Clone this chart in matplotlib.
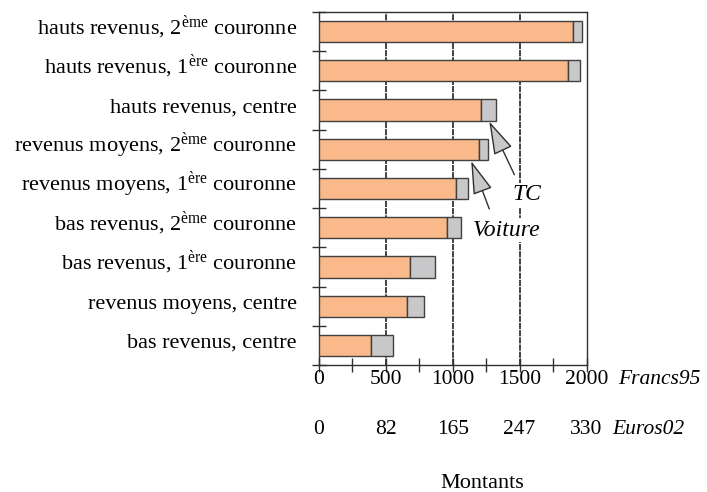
import matplotlib
matplotlib.use("Agg")
import matplotlib.pyplot as plt
import matplotlib.transforms as mtransforms

plt.rcParams["font.family"] = ["Liberation Serif", "DejaVu Serif"]
plt.rcParams["mathtext.fontset"] = "custom"
plt.rcParams["mathtext.rm"] = "Liberation Serif"
plt.rcParams["mathtext.it"] = "Liberation Serif:italic"

# bottom to top
categories = [
    "bas revenus, centre",
    "revenus moyens, centre",
    r"bas revenus, 1$^{\mathrm{ère}}$ couronne",
    r"bas revenus, 2$^{\mathrm{ème}}$ couronne",
    r"revenus moyens, 1$^{\mathrm{ère}}$ couronne",
    r"revenus moyens, 2$^{\mathrm{ème}}$ couronne",
    "hauts revenus, centre",
    r"hauts revenus, 1$^{\mathrm{ère}}$ couronne",
    r"hauts revenus, 2$^{\mathrm{ème}}$ couronne",
]
voiture = [390, 657, 684, 954, 1026, 1193, 1208, 1863, 1900]
tc = [164, 125, 180, 107, 85, 71, 118, 85, 68]

francs_ticks = [0, 500, 1000, 1500, 2000]
francs_labels = ["0", "500", "1000", "1500", "2000"]
euros_labels = ["0", "82", "165", "247", "330"]

FS = 15.5

fig = plt.figure(figsize=(7.07, 4.92), dpi=100)
ax = fig.add_axes([319 / 707, 1 - 365 / 492, 267.5 / 707, 353 / 492])

y = list(range(len(categories)))
ax.barh(y, voiture, height=0.54, color="#f9b98a", edgecolor="#404040",
        linewidth=1, zorder=3)
ax.barh(y, tc, left=voiture, height=0.54, color="#c8c8ca",
        edgecolor="#404040", linewidth=1, zorder=3)

ax.set_xlim(0, 2000)
ax.set_ylim(-0.5, len(categories) - 0.5)

for v in francs_ticks[1:-1]:
    ax.axvline(v, color="#101010", linewidth=1.1, linestyle=(0, (4, 0.7)),
               zorder=1)

for s in ax.spines.values():
    s.set_color("#303030")
    s.set_linewidth(1)

# y axis: ticks on boundaries, labels on centres
ax.set_yticks([i - 0.5 for i in range(len(categories) + 1)])
ax.set_yticklabels([])
ax.set_yticks([i - 0.06 for i in y], minor=True)
ax.set_yticklabels(categories, minor=True, fontsize=16)
for lab in ax.get_yticklabels(minor=True):
    lab.set_va("baseline")
ax.tick_params(axis="y", which="major", direction="inout", length=10.5,
               width=1, color="#303030")
ax.tick_params(axis="y", which="minor", length=0, pad=16)

# x axis
ax.set_xticks(francs_ticks)
ax.set_xticklabels([])
ax.set_xticks([250, 750, 1250, 1750], minor=True)
ax.tick_params(axis="x", which="both", direction="inout", length=10,
               width=1, color="#303030")

trans = mtransforms.blended_transform_factory(ax.transData, fig.transFigure)
for v, lab in zip(francs_ticks, francs_labels):
    ax.text(v, 1 - 379 / 492, lab, transform=trans, ha="center",
            va="center", fontsize=FS)
for v, lab in zip(francs_ticks, euros_labels):
    ax.text(v, 1 - 429 / 492, lab, transform=trans, ha="center",
            va="center", fontsize=FS)
ax.text(2235, 1 - 379 / 492, "Francs95", transform=trans, ha="left",
        va="center", fontsize=FS, style="italic")
ax.text(2195, 1 - 429 / 492, "Euros02", transform=trans, ha="left",
        va="center", fontsize=FS, style="italic")
fig.text(482 / 707, 1 - 483 / 492, "Montants", ha="center", va="center",
         fontsize=16)

arrow = dict(arrowstyle="-|>,head_length=1.5,head_width=0.45",
             mutation_scale=14, facecolor="#c8c8ca", edgecolor="#303030",
             linewidth=1, shrinkA=0, shrinkB=0)
ax.annotate("", xy=(1273, 5.71), xytext=(1461, 4.35), arrowprops=arrow,
            zorder=5)
ax.annotate("", xy=(1138, 4.70), xytext=(1273, 3.48), arrowprops=arrow,
            zorder=5)
ax.text(1556, 3.84, "TC", ha="center", va="center", fontsize=17,
        style="italic", zorder=4,
        bbox=dict(facecolor="white", edgecolor="none", pad=1))
ax.text(1400, 2.94, "Voiture", ha="center", va="center", fontsize=17,
        style="italic", zorder=4,
        bbox=dict(facecolor="white", edgecolor="none", pad=1))

fig.savefig("out.png", dpi=100)
